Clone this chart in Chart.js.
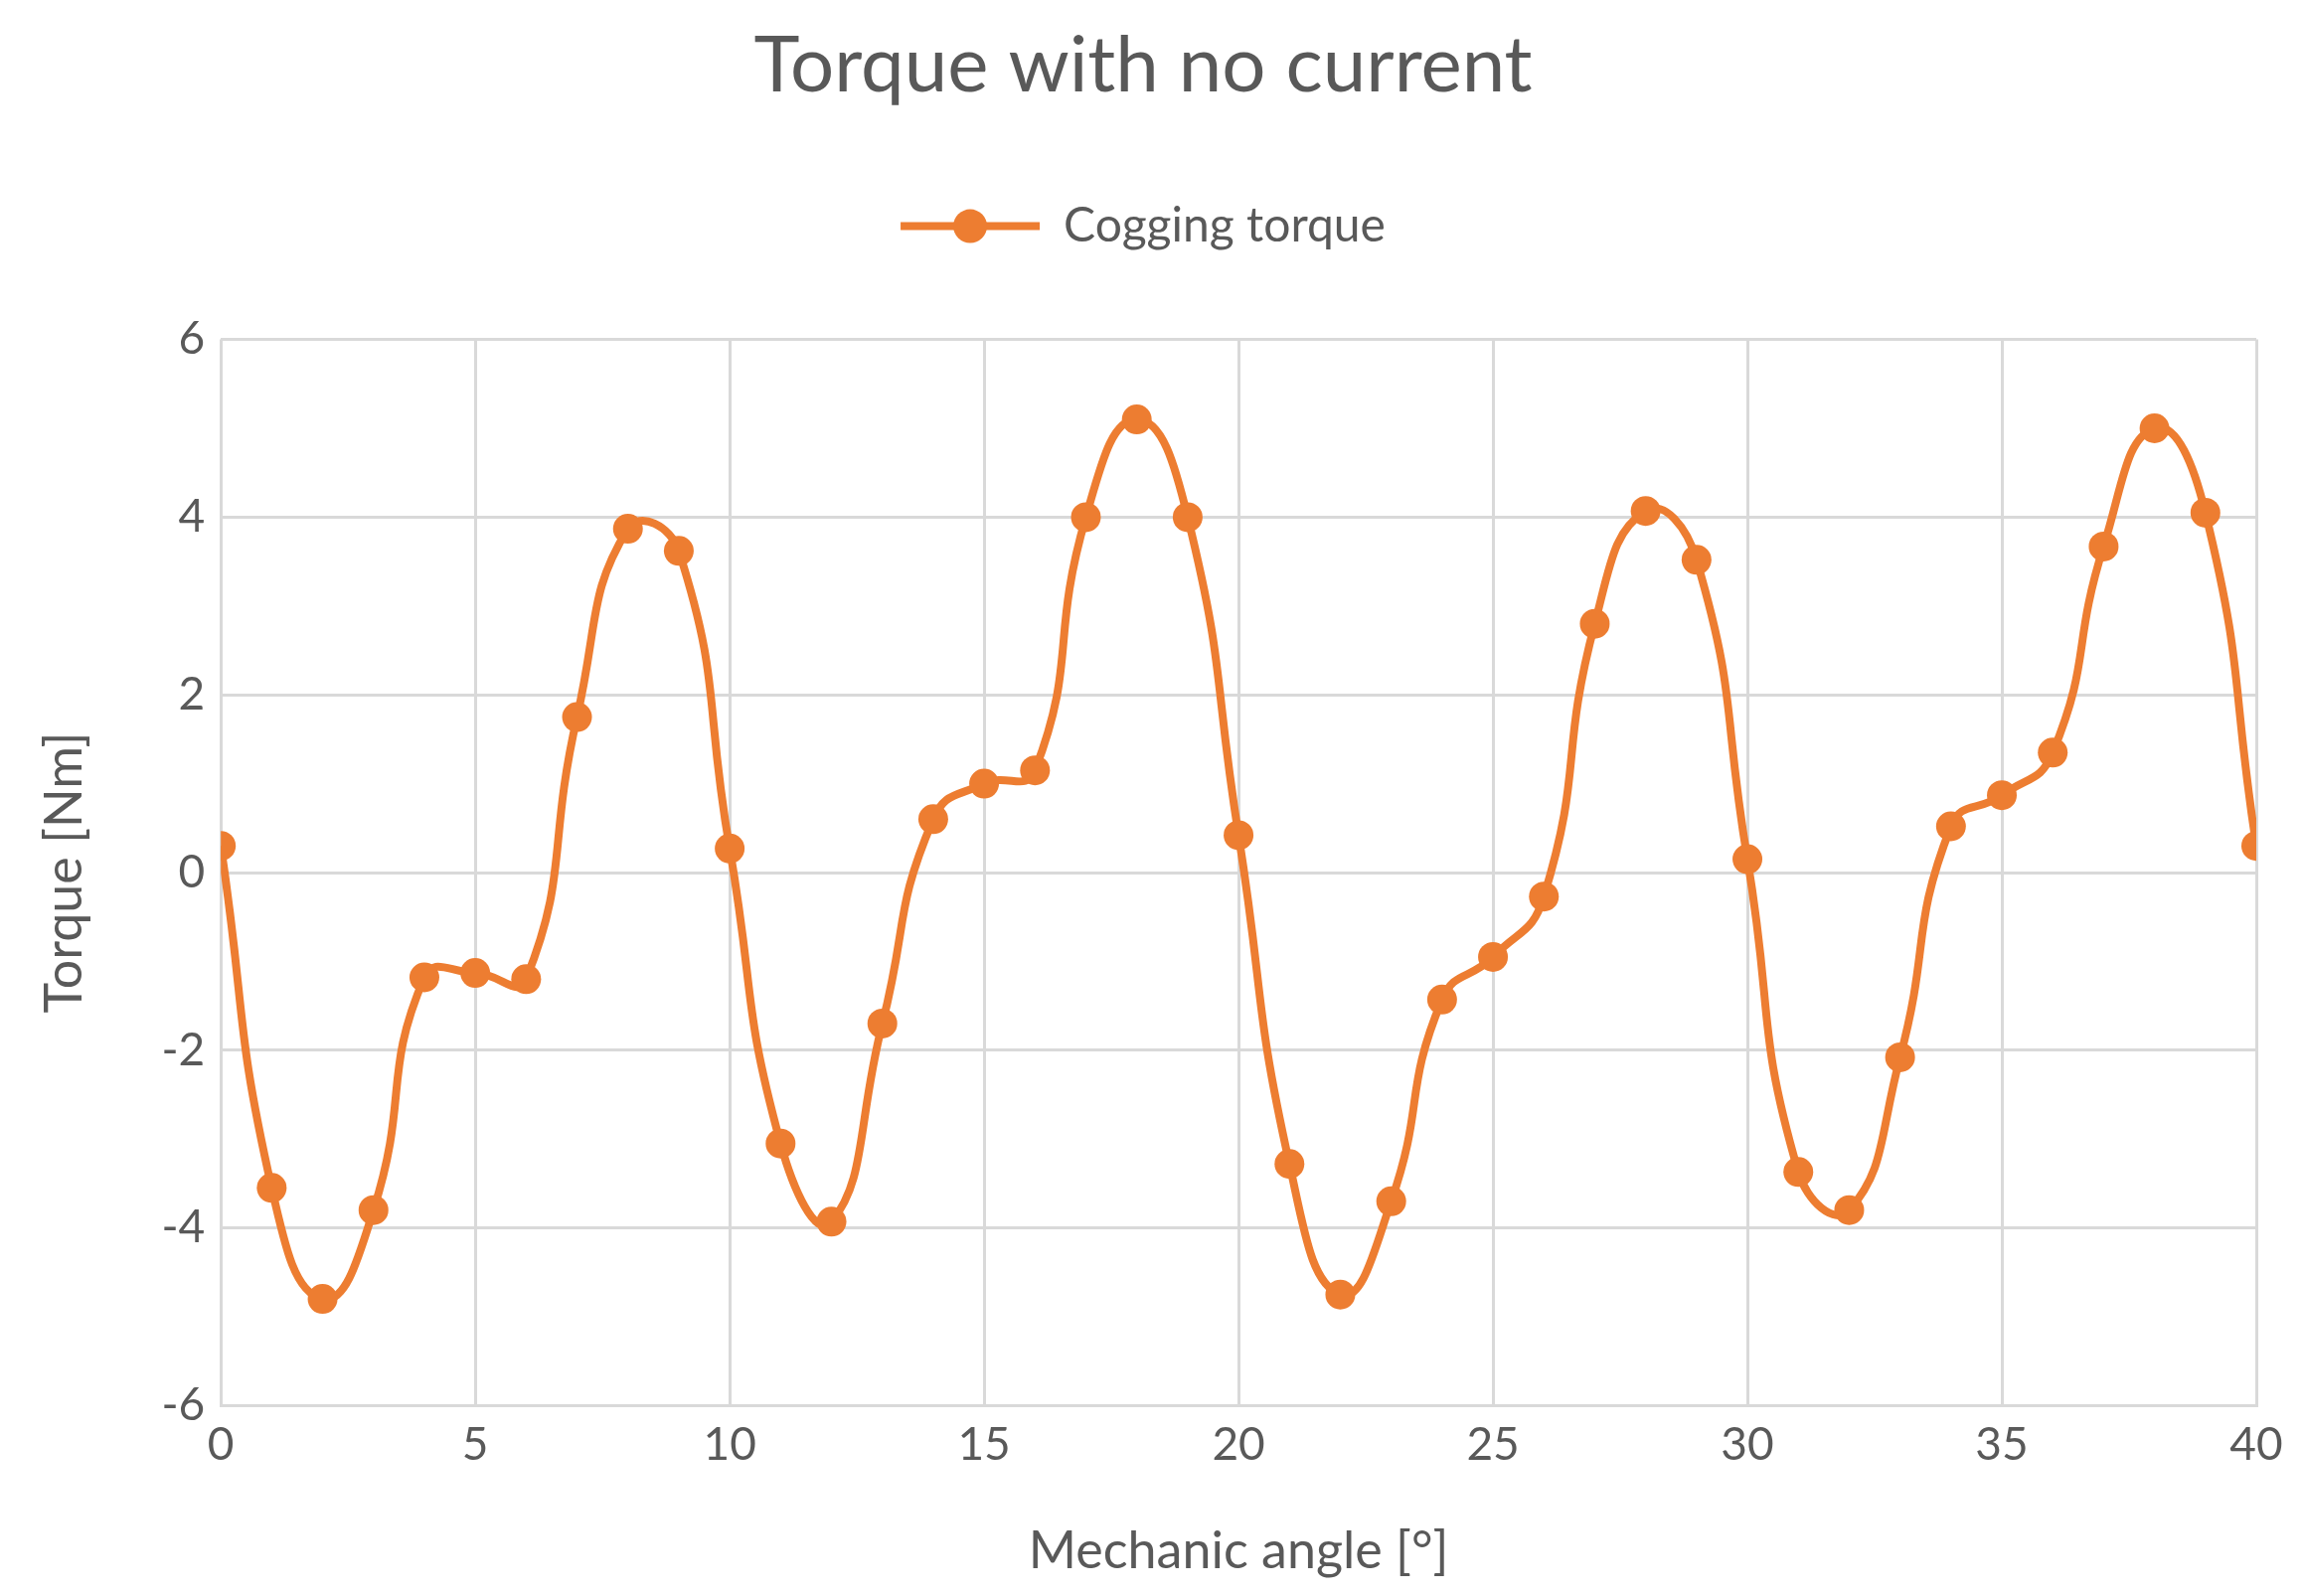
<!DOCTYPE html>
<html><head><meta charset="utf-8">
<script src="https://cdn.jsdelivr.net/npm/chart.js@4/dist/chart.umd.min.js"></script>
<style>html,body{margin:0;padding:0;background:#fff}#w{width:2318px;height:1606px}</style>
</head><body><div id="w"><canvas id="c"></canvas></div>
<script>
const angles = [0,1,2,3,4,5,6,7,8,9,10,11,12,13,14,15,16,17,18,19,20,21,22,23,24,25,26,27,28,29,30,31,32,33,34,35,36,37,38,39,40];
const torque = [0.3,-3.55,-4.8,-3.8,-1.18,-1.13,-1.2,1.75,3.87,3.62,0.27,-3.05,-3.93,-1.7,0.6,1.0,1.15,4.0,5.1,4.0,0.42,-3.28,-4.75,-3.7,-1.43,-0.95,-0.27,2.8,4.07,3.52,0.15,-3.37,-3.8,-2.08,0.52,0.87,1.35,3.67,5.0,4.05,0.3];
const seriesName = 'Cogging torque';
const col = '#ED7D31', txt = '#595959', grid = '#D9D9D9';
Chart.defaults.font.family = 'Lato, "Open Sans", sans-serif';
Chart.defaults.color = txt;
const legendDot = { id: 'legendDot', afterDraw(ch) {
  const hb = ch.legend.legendHitBoxes && ch.legend.legendHitBoxes[0]; if (!hb) return;
  const ctx = ch.ctx; ctx.save(); ctx.fillStyle = col; ctx.beginPath();
  ctx.arc(hb.left + 70, hb.top + hb.height/2, 17, 0, Math.PI*2); ctx.fill(); ctx.restore(); } };
new Chart(document.getElementById('c'), {
  type: 'line',
  data: { datasets: [{ label: seriesName, data: angles.map((a,i)=>({x:a,y:torque[i]})),
    borderColor: col, backgroundColor: col, borderWidth: 8, pointRadius: 15, pointHoverRadius: 15,
    pointBorderWidth: 0, tension: 0.5 }] },
  options: {
    responsive: true, maintainAspectRatio: false, animation: false,
    layout: { padding: { left: 30, right: 48, top: 20, bottom: 10 } },
    plugins: {
      title: { display: true, text: 'Torque with no current', font: { size: 78, weight: 'normal' }, color: txt, padding: { top: 0, bottom: 70 } },
      legend: { position: 'top', labels: { font: { size: 48 }, color: txt, boxWidth: 140, boxHeight: 8, padding: 20,
        generateLabels: (ch) => [{ text: seriesName, fillStyle: col, strokeStyle: col, lineWidth: 0, fontColor: txt }] } },
      tooltip: { enabled: false }
    },
    scales: {
      x: { type: 'linear', min: 0, max: 40, ticks: { stepSize: 5, font: { size: 46 }, color: txt, padding: 12 },
        grid: { color: grid, lineWidth: 3, drawTicks: false }, border: { color: grid, width: 3 },
        title: { display: true, text: 'Mechanic angle [°]', font: { size: 52 }, color: txt, padding: { top: 36 } } },
      y: { min: -6, max: 6, afterFit: (s) => { s.width = s.width; },
        ticks: { stepSize: 2, font: { size: 46 }, color: txt, padding: 16 },
        grid: { color: grid, lineWidth: 3, drawTicks: false }, border: { display: false },
        title: { display: true, text: 'Torque [Nm]', font: { size: 52 }, color: txt, padding: { bottom: 50 } } }
    }
  },
  plugins: [legendDot, { id: 'legPad', beforeInit(ch) { const f = ch.legend.fit; ch.legend.fit = function(){ f.bind(ch.legend)(); this.height += 80; }; } }]
});
</script></body></html>
